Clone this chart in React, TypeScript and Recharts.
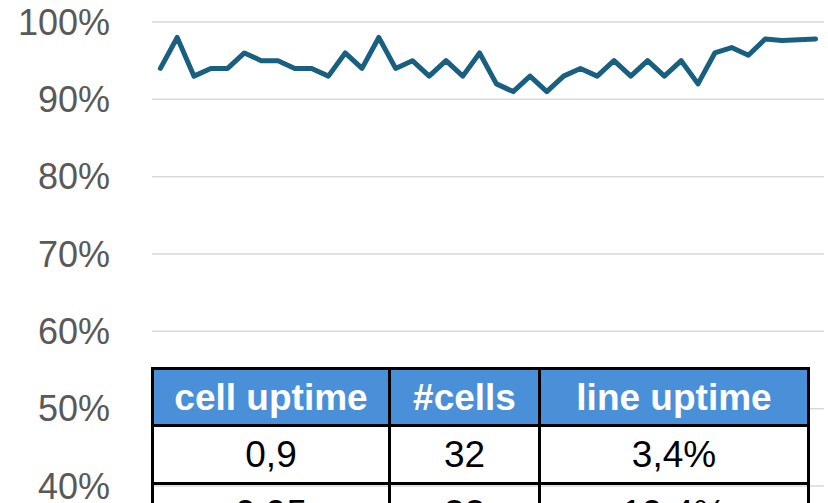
import { LineChart, Line, XAxis, YAxis, CartesianGrid } from "recharts";

// daily line uptime (fraction)
const uptime = [
  0.94, 0.98, 0.93, 0.94, 0.94, 0.96, 0.95, 0.95, 0.94, 0.94,
  0.93, 0.96, 0.94, 0.98, 0.94, 0.95, 0.93, 0.95, 0.93, 0.96,
  0.92, 0.91, 0.93, 0.91, 0.93, 0.94, 0.93, 0.95, 0.93, 0.95,
  0.93, 0.95, 0.92, 0.96, 0.967, 0.957, 0.978, 0.976, 0.977, 0.978,
];

const yTicks = [0, 0.1, 0.2, 0.3, 0.4, 0.5, 0.6, 0.7, 0.8, 0.9, 1];

// overlay table
const tableHeaders = ["cell uptime", "#cells", "line uptime"];
const cellUptime = ["0,9", "0,95"];
const cellCount = ["32", "32"];
const lineUptime = ["3,4%", "19,4%"];

const colWidths = [237, 150, 269];

const data = uptime.map((v, i) => ({ day: i + 1, uptime: v }));

const border = "3px solid #000";

const App = () => {
  return (
    <div
      style={{
        position: "absolute",
        left: 0,
        top: 0,
        width: 828,
        height: 503,
        overflow: "hidden",
        background: "#fff",
      }}
    >
      <LineChart
        width={828}
        height={800}
        data={data}
        margin={{ top: 22, right: 4, bottom: 4.7, left: 0 }}
      >
        <CartesianGrid
          vertical={false}
          stroke="#d9d9d9"
          strokeWidth={1.5}
        />
        <XAxis dataKey="day" hide padding={{ left: 8.4, right: 8.4 }} />
        <YAxis
          domain={[0, 1]}
          ticks={yTicks}
          width={152}
          axisLine={false}
          tickLine={false}
          tickSize={0}
          tickMargin={42}
          tickFormatter={(v: number) => `${Math.round(v * 100)}%`}
          tick={{
            fill: "#595959",
            fontSize: 36,
            fontFamily: "'Liberation Sans', Arial, sans-serif",
          }}
        />
        <Line
          type="linear"
          dataKey="uptime"
          stroke="#185f80"
          strokeWidth={5}
          strokeLinejoin="round"
          strokeLinecap="round"
          dot={false}
          isAnimationActive={false}
        />
      </LineChart>
      <table
        style={{
          position: "absolute",
          left: 151,
          top: 367,
          borderCollapse: "collapse",
          tableLayout: "fixed",
          fontFamily: "'Liberation Sans', Arial, sans-serif",
          fontSize: 37,
        }}
      >
        <colgroup>
          {colWidths.map((w, i) => (
            <col key={i} style={{ width: w }} />
          ))}
        </colgroup>
        <thead>
          <tr style={{ height: 57 }}>
            {tableHeaders.map((h) => (
              <th
                key={h}
                style={{
                  border,
                  background: "#4a90d9",
                  color: "#fff",
                  fontWeight: 700,
                  padding: "2px 0 0 0",
                  textAlign: "center",
                }}
              >
                {h}
              </th>
            ))}
          </tr>
        </thead>
        <tbody>
          {cellUptime.map((c, i) => (
            <tr key={c} style={{ height: 58 }}>
              {[c, cellCount[i], lineUptime[i]].map((t, j) => (
                <td
                  key={j}
                  style={{
                    border,
                    background: i === 0 ? "#fff" : "transparent",
                    color: "#000",
                    padding: i === 0 ? 0 : "3px 0 0 0",
                    textAlign: "center",
                  }}
                >
                  {t}
                </td>
              ))}
            </tr>
          ))}
        </tbody>
      </table>
    </div>
  );
};

export default App;
